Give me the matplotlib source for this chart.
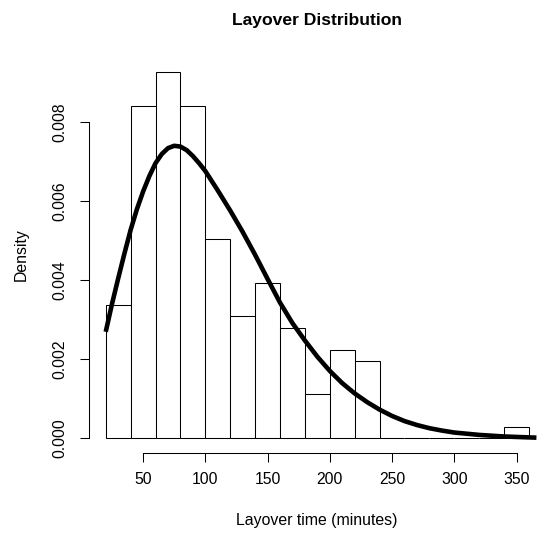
import matplotlib
matplotlib.use("Agg")
import matplotlib.pyplot as plt
import numpy as np

plt.rcParams["font.family"] = ["Liberation Sans", "DejaVu Sans"]

# histogram of layover times (counts per 20-minute bin)
bin_edges = [20, 40, 60, 80, 100, 120, 140, 160, 180, 200, 220, 240, 260, 280, 300, 320, 340, 360]
counts = [12, 30, 33, 30, 18, 11, 14, 10, 4, 8, 7, 0, 0, 0, 0, 0, 1]

# fitted density curve
curve_x = [20, 25, 30, 35, 40, 45, 50, 55, 60, 65, 70, 75, 80, 85, 90, 95, 100, 110, 120,
           130, 140, 150, 160, 170, 180, 190, 200, 210, 220, 230, 240, 250, 260, 270,
           280, 290, 300, 320, 340, 366]
curve_y = [0.00270, 0.00340, 0.00405, 0.00468, 0.00528, 0.00580, 0.00625, 0.00664,
           0.00697, 0.00720, 0.00735, 0.00741, 0.00739, 0.00730, 0.00715, 0.00697,
           0.00677, 0.00628, 0.00577, 0.00523, 0.00465, 0.00404, 0.00344, 0.00292,
           0.00248, 0.00207, 0.00171, 0.00140, 0.00114, 0.00092, 0.00073, 0.00057,
           0.00044, 0.00034, 0.00026, 0.00020, 0.00015, 0.00009, 0.00005, 0.00002]

x_ticks = [50, 100, 150, 200, 250, 300, 350]
y_ticks = [0.000, 0.002, 0.004, 0.006, 0.008]
y_tick_labels = ["0.000", "0.002", "0.004", "0.006", "0.008"]

W, H = 538, 537
fig = plt.figure(figsize=(W / 100, H / 100), dpi=100)
# plot region in pixels (left, top, right, bottom), right edge lies past the crop
left, top, right, bottom = 88.8, 57.7, 545.9, 453.1
ax = fig.add_axes([left / W, 1 - bottom / H, (right - left) / W, (bottom - top) / H])

edges = np.array(bin_edges, dtype=float)
widths = np.diff(edges)
dens = np.array(counts) / (sum(counts) * widths)

ax.bar(edges[:-1], dens, width=widths, align="edge", facecolor="white",
       edgecolor="black", linewidth=0.75)
ax.plot(curve_x, curve_y, color="black", linewidth=3.3, solid_capstyle="butt",
        solid_joinstyle="round")

span_x = edges[-1] - edges[0]
ax.set_xlim(edges[0] - 0.04 * span_x, edges[-1] + 0.04 * span_x)
ymax = dens.max()
ax.set_ylim(-0.04 * ymax, ymax * 1.04)

for s in ["top", "right"]:
    ax.spines[s].set_visible(False)
ax.spines["left"].set_bounds(0, 0.008)
ax.spines["bottom"].set_bounds(50, 350)
for s in ["left", "bottom"]:
    ax.spines[s].set_linewidth(0.75)

ax.set_xticks(x_ticks)
ax.set_yticks(y_ticks)
ax.set_yticklabels(y_tick_labels, rotation=90, va="center")
ax.tick_params(axis="both", direction="out", length=6.4, width=0.75, labelsize=11.3)
ax.tick_params(axis="x", pad=7)
ax.tick_params(axis="y", pad=9)

fig.text(317 / W, 1 - 21 / H, "Layover Distribution", ha="center", va="center",
         fontsize=12.6, fontweight="bold")
fig.text(317 / W, 1 - 521 / H, "Layover time (minutes)", ha="center", va="center",
         fontsize=11.4)
fig.text(21 / W, 1 - 255 / H, "Density", ha="center", va="center", rotation=90,
         fontsize=11.4)

fig.savefig("out.png", dpi=100)
